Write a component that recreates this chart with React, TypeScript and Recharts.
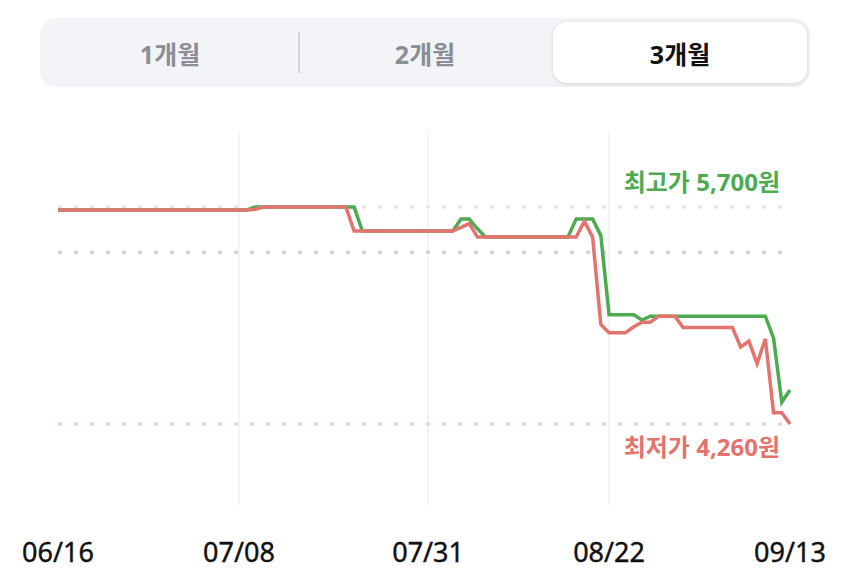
import React from 'react';
import { LineChart, Line, XAxis, YAxis, ReferenceLine } from 'recharts';

const dates = [
  '06/16','06/17','06/18','06/19','06/20','06/21','06/22','06/23','06/24','06/25','06/26','06/27','06/28','06/29','06/30',
  '07/01','07/02','07/03','07/04','07/05','07/06','07/07','07/08','07/09','07/10','07/11','07/12','07/13','07/14','07/15',
  '07/16','07/17','07/18','07/19','07/20','07/21','07/22','07/23','07/24','07/25','07/26','07/27','07/28','07/29','07/30','07/31',
  '08/01','08/02','08/03','08/04','08/05','08/06','08/07','08/08','08/09','08/10','08/11','08/12','08/13','08/14','08/15',
  '08/16','08/17','08/18','08/19','08/20','08/21','08/22','08/23','08/24','08/25','08/26','08/27','08/28','08/29','08/30','08/31',
  '09/01','09/02','09/03','09/04','09/05','09/06','09/07','09/08','09/09','09/10','09/11','09/12','09/13',
];

const highPrices = [
  5680,5680,5680,5680,5680,5680,5680,5680,5680,5680,5680,5680,5680,5680,5680,5680,5680,5680,5680,5680,5680,5680,5680,
  5680,
  5700,5700,5700,5700,5700,5700,5700,5700,5700,5700,5700,5700,5700,
  5540,5540,5540,5540,5540,5540,5540,5540,5540,5540,5540,
  5540,5620,5620,5555,
  5500,5500,5500,5500,5500,5500,5500,5500,5500,5500,5500,
  5620,5620,5620,5510,
  4985,4985,4985,4985,
  4950,
  4975,4975,4975,4975,4975,4975,4975,4975,4975,4975,4975,4975,4975,4975,4975,
  4830,4405,4485,
];

const lowPrices = [
  5680,5680,5680,5680,5680,5680,5680,5680,5680,5680,5680,5680,5680,5680,5680,5680,5680,5680,5680,5680,5680,5680,5680,5680,
  5685,
  5700,5700,5700,5700,5700,5700,5700,5700,5700,5700,5700,
  5540,5540,5540,5540,5540,5540,5540,5540,5540,5540,5540,5540,
  5540,5565,5590,5500,
  5500,5500,5500,5500,5500,5500,5500,5500,5500,5500,5500,5500,
  5605,5500,
  4920,4865,4865,4865,4905,4935,4935,4975,4975,4975,4900,
  4900,4900,4900,4900,4900,4900,
  4770,4810,4660,4825,4335,4335,4260,
];

const tickLabels = ['06/16', '07/08', '07/31', '08/22', '09/13'];
const gridDates = ['07/08', '07/31', '08/22'];
const maxPrice = 5700;
const minPrice = 4260;
const midPrice = 5400;
const periods = ['1개월', '2개월', '3개월'];
const selectedPeriod = '3개월';

const data = dates.map((d, i) => ({ date: d, high: highPrices[i], low: lowPrices[i] }));

const GREEN = '#4caa50';
const RED = '#e3736d';
const KR = "'Noto Sans', 'Noto Sans CJK KR', sans-serif";

const fmt = (n: number) => n.toLocaleString('en-US');

const Tick = (props: any) => {
  const { x, y, payload } = props;
  return (
    <text
      x={x}
      y={y + 38}
      textAnchor="middle"
      dominantBaseline="central"
      fontSize={27}
      fontWeight={400}
      fontFamily="'Noto Sans', sans-serif"
      fill="#111"
      stroke="#111"
      strokeWidth={0.4}
    >
      {payload.value}
    </text>
  );
};

const MaxLabel = (props: any) => {
  const vb = props.viewBox;
  return (
    <text
      x={vb.x + vb.width - 10}
      y={vb.y - 25}
      textAnchor="end"
      dominantBaseline="central"
      fontSize={24}
      fontWeight={700}
      fontFamily={KR}
      fill={GREEN}
    >
      {`최고가 ${fmt(maxPrice)}원`}
    </text>
  );
};

const MinLabel = (props: any) => {
  const vb = props.viewBox;
  return (
    <text
      x={vb.x + vb.width - 10}
      y={vb.y + 23}
      textAnchor="end"
      dominantBaseline="central"
      fontSize={24}
      fontWeight={700}
      fontFamily={KR}
      fill={RED}
    >
      {`최저가 ${fmt(minPrice)}원`}
    </text>
  );
};

export default function App() {
  return (
    <div style={{ position: 'absolute', left: 0, top: 0, width: 850, height: 577, background: '#fff', overflow: 'hidden' }}>
      <div
        style={{
          position: 'absolute',
          left: 40,
          top: 18,
          width: 770,
          height: 69,
          borderRadius: 16,
          background: '#f2f4f7',
        }}
      >
        <div
          style={{
            position: 'absolute',
            left: 258,
            top: 14,
            width: 1.5,
            height: 41,
            background: '#d3d5d9',
          }}
        />
        {periods.map((p, i) => {
          const sel = p === selectedPeriod;
          return (
            <div
              key={p}
              style={{
                position: 'absolute',
                left: 3 + i * 255,
                top: 4,
                width: 254,
                height: 61,
                borderRadius: 14,
                background: sel ? '#fff' : 'transparent',
                boxShadow: sel ? '0 1px 4px rgba(0,0,0,0.14)' : 'none',
                display: 'flex',
                alignItems: 'center',
                justifyContent: 'center',
                fontFamily: KR,
                fontWeight: 700,
                fontSize: 25,
                color: sel ? '#111' : '#8b8e94',
              }}
            >
              {p}
            </div>
          );
        })}
      </div>
      <div style={{ position: 'absolute', left: 0, top: 0 }}>
        <LineChart width={850} height={577} data={data} margin={{ top: 130, right: 60, bottom: 42, left: 58 }}>
          <XAxis
            dataKey="date"
            ticks={tickLabels}
            interval={0}
            axisLine={false}
            tickLine={false}
            height={30}
            tick={<Tick />}
          />
          <YAxis hide domain={[3722, 6211]} />
          {gridDates.map((d) => (
            <ReferenceLine key={d} x={d} stroke="#f1f1f1" strokeWidth={1.5} />
          ))}
          <ReferenceLine y={maxPrice} stroke="#e4e4e4" strokeWidth={3} strokeDasharray="4 12" label={<MaxLabel />} />
          <ReferenceLine y={midPrice} stroke="#cfcfcf" strokeWidth={3} strokeDasharray="4 12" />
          <ReferenceLine y={minPrice} stroke="#f5cfcf" strokeWidth={3} strokeDasharray="4 12" label={<MinLabel />} />
          <Line type="linear" dataKey="high" stroke={GREEN} strokeWidth={3.5} dot={false} isAnimationActive={false} />
          <Line type="linear" dataKey="low" stroke={RED} strokeWidth={3.5} dot={false} isAnimationActive={false} />
        </LineChart>
      </div>
    </div>
  );
}
